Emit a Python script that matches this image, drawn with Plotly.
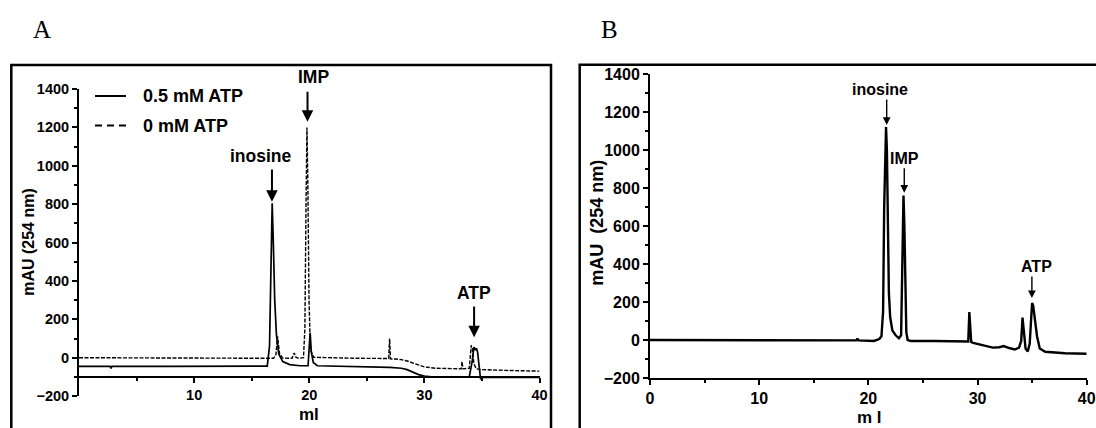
import plotly.graph_objects as go

W, H = 1096, 428

# ---------------- data ----------------
# Panel A, 0.5 mM ATP (solid trace)
a_x_05 = [0, 2.7, 2.78, 2.86, 8, 14, 16.35, 16.55, 16.68, 16.78, 16.88, 17.0, 17.15, 17.35,
          17.7, 18.3, 19.2, 19.9, 20.0, 20.08, 20.18, 20.35, 20.7, 24, 27, 28, 28.5, 29.0,
          29.5, 30.0, 30.6, 32, 33.9, 34.15, 34.3, 34.42, 34.52, 34.62, 34.75, 34.88, 35.05,
          36, 38, 40]
a_y_05 = [-45, -45, -55, -45, -45, -46, -44, 60, 500, 805, 600, 300, 120, 20,
          -20, -36, -42, -42, 60, 130, 30, -25, -42, -46, -50, -55, -62, -75,
          -88, -96, -100, -101, -100, -20, 55, 40, 50, 30, -40, -112, -102,
          -103, -103, -103]

# Panel A, 0 mM ATP (dashed trace)
a_x_0 = [0, 8, 16.9, 17.1, 17.25, 17.42, 17.7, 18.5, 18.62, 18.7, 18.8, 19.0, 19.5, 19.62,
         19.72, 19.8, 19.88, 19.98, 20.1, 20.4, 24, 26.9, 26.98, 27.06, 27.5, 28.0, 28.5,
         29.0, 29.5, 30.0, 31.0, 33.2, 33.27, 33.35, 33.9, 34.0, 34.07, 34.17, 34.3, 34.5,
         35, 37, 40]
a_y_0 = [0, -2, -3, 15, 110, 20, -2, -3, 10, 25, 5, -2, 0, 150,
         800, 1200, 900, 300, 40, 2, -3, -4, 100, -6, -7, -10, -17,
         -28, -40, -48, -55, -58, -20, -58, -55, 20, 65, 45, -30, -58,
         -62, -66, -70]

# Panel B (single trace)
b_x = [0, 5, 10, 15, 18.9, 19.0, 19.1, 20.5, 21.0, 21.2, 21.35, 21.45, 21.55, 21.62, 21.7,
       21.78, 21.88, 22.0, 22.2, 22.5, 22.8, 23.0, 23.08, 23.16, 23.22, 23.3, 23.38, 23.48,
       23.6, 23.9, 26, 29.15, 29.25, 29.32, 29.42, 29.6, 30.2, 30.8, 31.4, 32.0, 32.4, 32.9,
       33.4, 33.8, 34.0, 34.12, 34.25, 34.4, 34.6, 34.78, 34.9, 35.0, 35.1, 35.25, 35.45,
       35.7, 36.2, 38, 40]
b_y = [0, -1, -2, -2, -2, 8, -2, -5, 5, 20, 150, 700, 1050, 1122, 1000,
       550, 250, 120, 50, 25, 10, 25, 300, 700, 761, 600, 200, 40,
       0, -5, -5, -8, 148, 60, -10, -15, -22, -32, -40, -38, -32, -42,
       -50, -40, -5, 118, 40, -45, -60, -20, 100, 195, 180, 120, 20,
       -45, -62, -70, -72]

y_ticks = [-200, 0, 200, 400, 600, 800, 1000, 1200, 1400]
y_minor = [-100, 100, 300, 500, 700, 900, 1100, 1300]
a_x_ticks = [10, 20, 30, 40]
b_x_ticks = [0, 10, 20, 30, 40]
x_minor = [5, 15, 25, 35]

legend_labels = ["0.5 mM ATP", "0 mM ATP"]
peak_labels = ["inosine", "IMP", "ATP"]


def px(x):
    return x / W


def py(y):
    return 1 - y / H


SANS = "Liberation Sans, Arial, sans-serif"
SERIF = "Liberation Serif, Times New Roman, serif"

fig = go.Figure()
fig.add_trace(go.Scatter(x=a_x_05, y=a_y_05, mode="lines", name=legend_labels[0],
                         line=dict(color="black", width=1.7), xaxis="x", yaxis="y"))
fig.add_trace(go.Scatter(x=a_x_0, y=a_y_0, mode="lines", name=legend_labels[1],
                         line=dict(color="black", width=1.4, dash="4px,1.5px"),
                         xaxis="x", yaxis="y"))
fig.add_trace(go.Scatter(x=b_x, y=b_y, mode="lines", name="B",
                         line=dict(color="black", width=2.4), xaxis="x2", yaxis="y2"))

common = dict(showgrid=False, zeroline=False, showline=True, linecolor="black",
              linewidth=2, ticks="outside", tickcolor="black", tickwidth=2, ticklen=5,
              automargin=False, fixedrange=True)

fig.update_layout(
    template="none",
    width=W, height=H, autosize=False,
    margin=dict(l=0, r=0, t=0, b=0, pad=0),
    paper_bgcolor="white", plot_bgcolor="white",
    showlegend=False,
    xaxis=dict(domain=[px(79), px(539.5)], range=[0, 40], anchor="free",
               position=py(376.9), tickvals=a_x_ticks,
               minor=dict(tickvals=x_minor, ticks="outside", ticklen=3,
                          tickwidth=1.5, tickcolor="black"),
               tickfont=dict(family=SANS, size=14.5, color="black", weight="bold"),
               **common),
    yaxis=dict(domain=[py(396.1), py(89)], range=[-200, 1400], anchor="x",
               tickvals=y_ticks,
               minor=dict(tickvals=y_minor, ticks="outside", ticklen=3,
                          tickwidth=1.5, tickcolor="black"),
               tickfont=dict(family=SANS, size=14.5, color="black", weight="bold"),
               **common),
    xaxis2=dict(domain=[px(650), px(1086.7)], range=[0, 40], anchor="y2",
                tickvals=b_x_ticks,
                minor=dict(tickvals=x_minor, ticks="outside", ticklen=3,
                           tickwidth=1.5, tickcolor="black"),
                tickfont=dict(family=SANS, size=16, color="black", weight="bold"),
                **common),
    yaxis2=dict(domain=[py(378), py(74.3)], range=[-200, 1400], anchor="x2",
                tickvals=y_ticks,
                minor=dict(tickvals=y_minor, ticks="outside", ticklen=3,
                           tickwidth=1.5, tickcolor="black"),
                tickfont=dict(family=SANS, size=16, color="black", weight="bold"),
                **common),
)

# panel frames
fig.add_shape(type="rect", xref="paper", yref="paper", x0=px(11.3), x1=px(551),
              y0=py(460), y1=py(65), line=dict(color="black", width=2.5))
fig.add_shape(type="rect", xref="paper", yref="paper", x0=px(579.7), x1=px(1120),
              y0=py(460), y1=py(64.7), line=dict(color="black", width=2.5))

# legend (panel A)
fig.add_shape(type="line", xref="paper", yref="paper", x0=px(95), x1=px(126),
              y0=py(96), y1=py(96), line=dict(color="black", width=2))
fig.add_shape(type="line", xref="paper", yref="paper", x0=px(95), x1=px(126),
              y0=py(125.5), y1=py(125.5), line=dict(color="black", width=2, dash="7px,5px"))
for lab, yy in zip(legend_labels, [96, 125.5]):
    fig.add_annotation(text=lab, xref="paper", yref="paper", x=px(140.5), y=py(yy),
                       xanchor="left", yanchor="middle", showarrow=False,
                       font=dict(family=SANS, size=18, color="black", weight="bold"))

# panel letters
for lab, xx in [("A", 41.5), ("B", 609)]:
    fig.add_annotation(text=lab, xref="paper", yref="paper", x=px(xx), y=py(30),
                       xanchor="center", yanchor="middle", showarrow=False,
                       font=dict(family=SERIF, size=25, color="black"))

# axis titles
fig.add_annotation(text="mAU (254 nm)", xref="paper", yref="paper", x=px(28.3), y=py(241.5),
                   textangle=-90, xanchor="center", yanchor="middle", showarrow=False,
                   font=dict(family=SANS, size=16, color="black", weight="bold"))
fig.add_annotation(text="mAU\u00a0 (254 nm)", xref="paper", yref="paper", x=px(597.3),
                   y=py(222.5), textangle=-90, xanchor="center", yanchor="middle",
                   showarrow=False,
                   font=dict(family=SANS, size=18, color="black", weight="bold"))
fig.add_annotation(text="ml", xref="paper", yref="paper", x=px(309), y=py(414),
                   xanchor="center", yanchor="middle", showarrow=False,
                   font=dict(family=SANS, size=17, color="black", weight="bold"))
fig.add_annotation(text="m l", xref="paper", yref="paper", x=px(870), y=py(417),
                   xanchor="center", yanchor="middle", showarrow=False,
                   font=dict(family=SANS, size=17, color="black", weight="bold"))

# peak labels and arrows, panel A  (text x, text y in pixels-from-top ; arrow x, tail y, tip y)
a_marks = [(peak_labels[0], 15.8, 156, 16.76, 988, 812),
           (peak_labels[1], 20.4, 76.7, 19.85, 1394, 1229),
           (peak_labels[2], 34.32, 292.7, 34.32, 274, 106)]
for lab, tx, ty, ax_, tail, tip in a_marks:
    fig.add_annotation(text=lab, xref="x", yref="paper", x=tx, y=py(ty), showarrow=False,
                       xanchor="center", yanchor="middle",
                       font=dict(family=SANS, size=17.5, color="black", weight="bold"))
    fig.add_annotation(text="", xref="x", yref="y", axref="x", ayref="y",
                       x=ax_, y=tip, ax=ax_, ay=tail, showarrow=True,
                       arrowhead=2, arrowsize=1.15, arrowwidth=2, arrowcolor="black")

b_marks = [(peak_labels[0], 21.06, 1322, 21.68, 1275, 1133),
           (peak_labels[1], 23.35, 959, 23.29, 913, 776),
           (peak_labels[2], 35.44, 385, 34.98, 342, 221)]
for lab, tx, ty, ax_, tail, tip in b_marks:
    fig.add_annotation(text=lab, xref="x2", yref="y2", x=tx, y=ty, showarrow=False,
                       xanchor="center", yanchor="middle",
                       font=dict(family=SANS, size=16, color="black", weight="bold"))
    fig.add_annotation(text="", xref="x2", yref="y2", axref="x2", ayref="y2",
                       x=ax_, y=tip, ax=ax_, ay=tail, showarrow=True,
                       arrowhead=2, arrowsize=1.1, arrowwidth=1.4, arrowcolor="black")

fig.write_html("out.html", config={"displayModeBar": False},
               post_script="document.body.style.margin='0';document.body.style.overflow='hidden';")
